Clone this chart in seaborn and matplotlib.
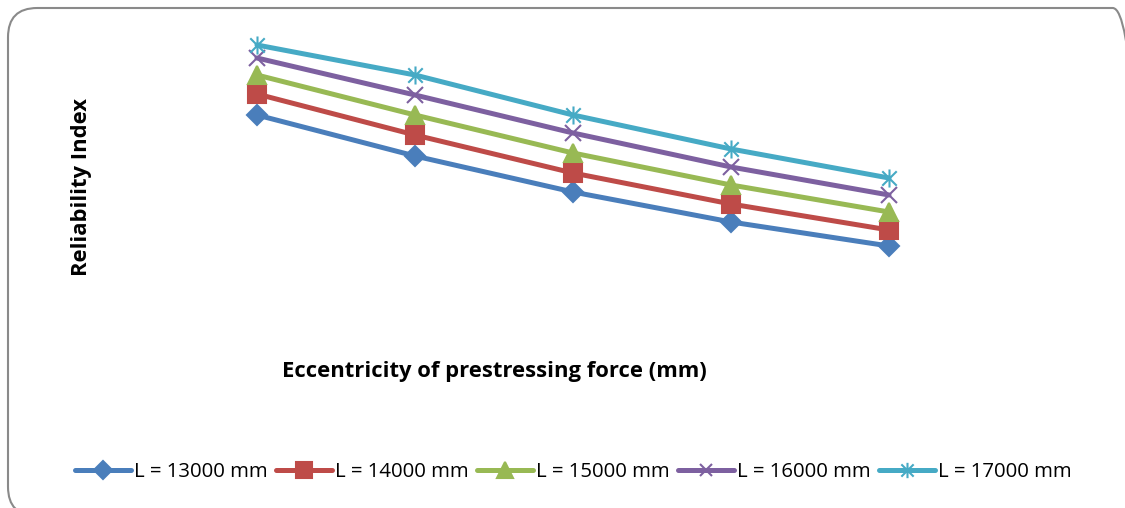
import numpy as np
import pandas as pd
import matplotlib
matplotlib.use("Agg")
import matplotlib.pyplot as plt
import seaborn as sns
from matplotlib.patches import FancyBboxPatch
from matplotlib.lines import Line2D
from matplotlib.path import Path

eccentricity = [1, 2, 3, 4, 5]
series_names = ["L = 13000 mm", "L = 14000 mm", "L = 15000 mm", "L = 16000 mm", "L = 17000 mm"]
beta_13000 = [4.70, 3.88, 3.16, 2.56, 2.08]
beta_14000 = [5.12, 4.30, 3.54, 2.92, 2.40]
beta_15000 = [5.50, 4.70, 3.94, 3.30, 2.76]
beta_16000 = [5.84, 5.10, 4.34, 3.66, 3.10]
beta_17000 = [6.10, 5.50, 4.70, 4.02, 3.44]

colors = ["#4A7EBB", "#BE4B48", "#98B954", "#7D60A0", "#46AAC5"]
star = Path([(-1, -1), (1, 1), (-1, 1), (1, -1), (0, -1.25), (0, 1.25)],
            [Path.MOVETO, Path.LINETO, Path.MOVETO, Path.LINETO, Path.MOVETO, Path.LINETO])
markers = ["D", "s", "^", "x", star]
msizes = [10.5, 13, 13, 11, 13]

sns.set_theme(style="white")
plt.rcParams["font.family"] = ["Open Sans", "DejaVu Sans"]
plt.rcParams["text.color"] = "black"

W, H = 1125, 508
fig = plt.figure(figsize=(W / 100, H / 100), dpi=100)
ax = fig.add_axes([178 / W, 1 - 340 / H, (968 - 178) / W, 320 / H])

all_vals = [beta_13000, beta_14000, beta_15000, beta_16000, beta_17000]
for name, vals, c, m, ms in zip(series_names, all_vals, colors, markers, msizes):
    d = pd.DataFrame({"e": eccentricity, "beta": vals})
    sns.lineplot(data=d, x="e", y="beta", color=c, marker=m, markersize=ms,
                 markerfacecolor=c, markeredgecolor=c, markeredgewidth=1.5,
                 linewidth=3.6, ax=ax, legend=False)

ax.set_xlim(0.5, 5.5)
ax.set_ylim(0.2, 6.6)
ax.set_xticks([])
ax.set_yticks([])
ax.set_xlabel("")
ax.set_ylabel("")
for s in ax.spines.values():
    s.set_visible(False)
ax.patch.set_alpha(0)

fig.text(494 / W, 1 - 371 / H, "Eccentricity of prestressing force (mm)", ha="center", va="center",
         fontsize=15.8, fontweight="bold", color="black")
fig.text(81 / W, 1 - 187 / H, "Reliability Index", ha="center", va="center", rotation=90,
         fontsize=15.8, fontweight="bold", color="black")

handles = [Line2D([], [], color=c, lw=3.6, marker=m, markersize=ms * 0.85, mfc=c, mec=c, mew=1.5)
           for c, m, ms in zip(colors, markers, msizes)]
leg = fig.legend(handles, series_names, loc="center", bbox_to_anchor=(573 / W, 1 - 472 / H), ncol=5,
                 frameon=False, handlelength=2.75, handletextpad=0.15, columnspacing=0.4, fontsize=14.7)
for t in leg.get_texts():
    t.set_color("black")

border = FancyBboxPatch((8 / W, -8 / H), (1142 - 8) / W, 508 / H,
                        boxstyle="round,pad=0,rounding_size=0.026", transform=fig.transFigure,
                        fill=False, edgecolor="#8a8a8a", linewidth=1.5, mutation_aspect=W / H)
fig.patches.append(border)

fig.savefig("out.png", dpi=100)
